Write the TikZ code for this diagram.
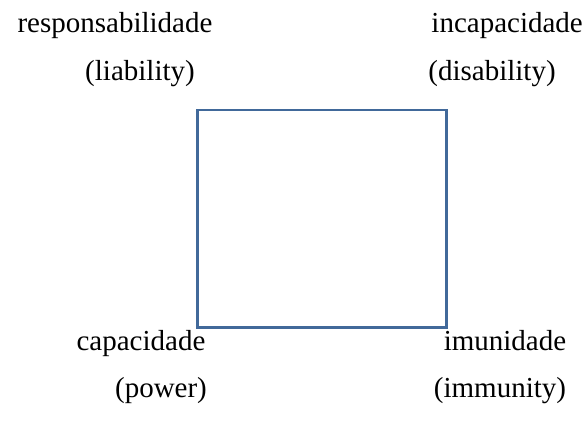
\documentclass[tikz,border=0pt]{standalone}
\usepackage{fontspec}
\setmainfont{Liberation Serif}
\definecolor{boxblue}{HTML}{41699A}
\tikzset{
  lbl/.style={font=\fontsize{29}{32}\selectfont, inner sep=0pt, anchor=base},
  sq/.style={draw=boxblue, line width=2.2pt}
}
\begin{document}
\begin{tikzpicture}[x=1pt,y=-1pt]
\useasboundingbox (0,0) rectangle (585,437);
\draw[sq] (197.5,110) rectangle (446.5,327.5);
\node[lbl] (resp) at (115,32) {responsabilidade};
\node[lbl] (liab) at (140,80) {(liability)};
\node[lbl, anchor=base east] (incap) at (583,32) {incapacidade};
\node[lbl] (disab) at (492,80) {(disability)};
\node[lbl] (capac) at (141,350) {capacidade};
\node[lbl] (power) at (161,397) {(power)};
\node[lbl] (imun) at (505,350) {imunidade};
\node[lbl] (immun) at (500,397) {(immunity)};
\end{tikzpicture}
\end{document}
